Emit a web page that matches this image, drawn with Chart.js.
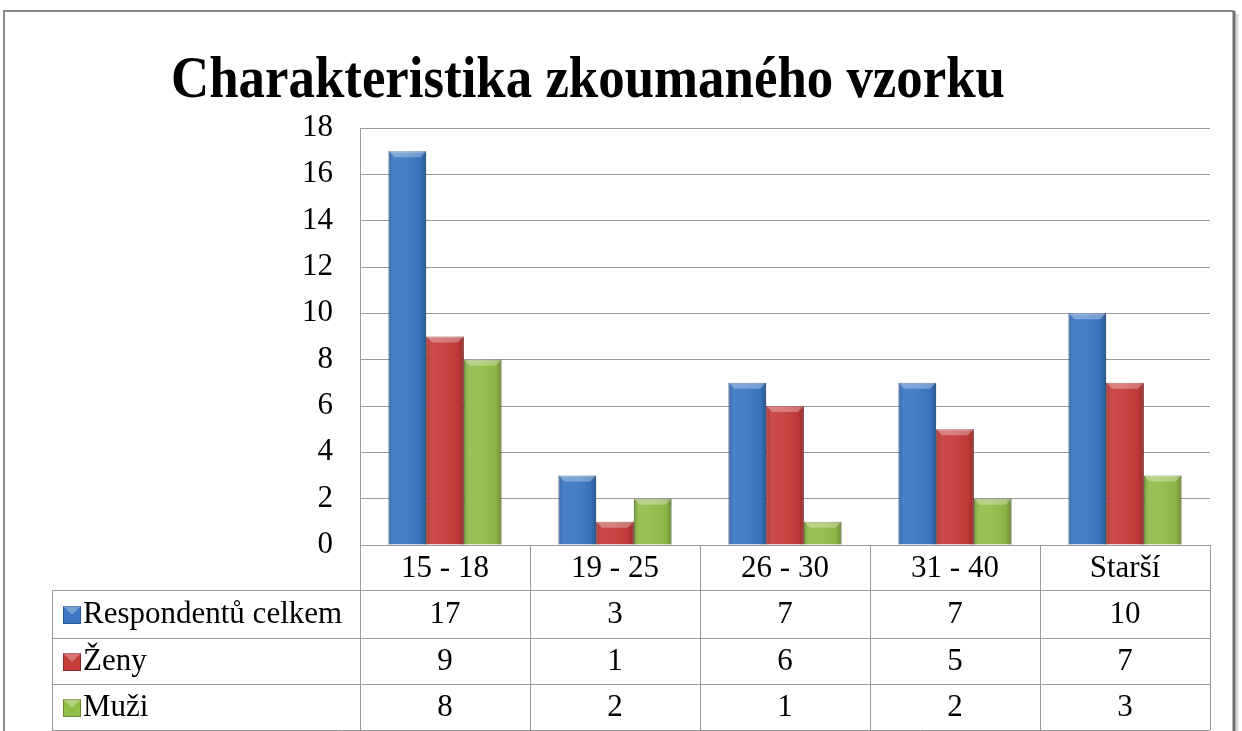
<!DOCTYPE html>
<html>
<head>
<meta charset="utf-8">
<script src="https://cdn.jsdelivr.net/npm/chart.js@4.4.1/dist/chart.umd.min.js"></script>
<style>
  body { margin: 0; background: #fff; }
  #wrap { width: 1242px; height: 731px; }
</style>
</head>
<body>
<div id="wrap"><canvas id="chart"></canvas></div>
<script>
const chartTitle = 'Charakteristika zkoumaného vzorku';
const categories = ['15 - 18', '19 - 25', '26 - 30', '31 - 40', 'Starší'];
const respondentu = [17, 3, 7, 7, 10];
const zeny = [9, 1, 6, 5, 7];
const muzi = [8, 2, 1, 2, 3];
const seriesNames = ['Respondentů celkem', 'Ženy', 'Muži'];
const yMax = 18;
const yStep = 2;

const SERIF = '"Liberation Serif", "Times New Roman", serif';
const fills = ['#3a77c4', '#c63c39', '#92bc48'];
const edges = ['#285a97', '#932a28', '#6a8a32'];

// white background + outer frame
const framePlugin = {
    id: 'frame',
    beforeDraw(chart) {
        const ctx = chart.ctx;
        ctx.save();
        ctx.fillStyle = '#fff';
        ctx.fillRect(0, 0, chart.width, chart.height);
        ctx.strokeStyle = '#8a8a8a';
        ctx.lineWidth = 2;
        ctx.beginPath();
        ctx.moveTo(4, 740);
        ctx.lineTo(4, 11);
        ctx.lineTo(1234, 11);
        ctx.stroke();
        ctx.strokeStyle = '#6e6e6e';
        ctx.lineWidth = 3;
        ctx.beginPath();
        ctx.moveTo(1234, 11);
        ctx.lineTo(1234, 740);
        ctx.stroke();
        ctx.strokeStyle = 'rgba(0,0,0,0.15)';
        ctx.lineWidth = 3;
        ctx.beginPath();
        ctx.moveTo(1237, 14);
        ctx.lineTo(1237, 740);
        ctx.stroke();
        ctx.restore();
    }
};

// bevel look on the bars
const bevelPlugin = {
    id: 'bevel',
    afterDatasetsDraw(chart) {
        const ctx = chart.ctx;
        ctx.save();
        chart.data.datasets.forEach((ds, di) => {
            chart.getDatasetMeta(di).data.forEach(bar => {
                const l = bar.x - bar.width / 2, r = bar.x + bar.width / 2;
                const t = bar.y, b = bar.base;
                const g = ctx.createLinearGradient(l, 0, r, 0);
                g.addColorStop(0, 'rgba(0,0,0,0.18)');
                g.addColorStop(0.15, 'rgba(255,255,255,0.08)');
                g.addColorStop(0.5, 'rgba(255,255,255,0.05)');
                g.addColorStop(0.85, 'rgba(0,0,0,0.05)');
                g.addColorStop(1, 'rgba(0,0,0,0.25)');
                ctx.fillStyle = g;
                ctx.fillRect(l, t, r - l, b - t);
                // top bevel
                const d = Math.min(6, (b - t) / 2);
                ctx.fillStyle = 'rgba(255,255,255,0.3)';
                ctx.beginPath();
                ctx.moveTo(l, t);
                ctx.lineTo(r, t);
                ctx.lineTo(r - d, t + d);
                ctx.lineTo(l + d, t + d);
                ctx.closePath();
                ctx.fill();
            });
        });
        ctx.restore();
    }
};

// title and data table under the plot
const tablePlugin = {
    id: 'table',
    afterDraw(chart) {
        const ctx = chart.ctx;
        const area = chart.chartArea;
        const x = chart.scales.x;
        const n = categories.length;
        const step = (area.right - area.left) / n;
        const tableLeft = 52;
        const rows = [area.bottom, 590, 638, 684, 730];
        const values = [respondentu, zeny, muzi];

        ctx.save();
        // title, squeezed like the original
        ctx.font = 'bold 59px ' + SERIF;
        ctx.fillStyle = '#000';
        ctx.textBaseline = 'alphabetic';
        ctx.textAlign = 'left';
        const w = ctx.measureText(chartTitle).width;
        ctx.translate(171, 97);
        ctx.scale(834 / w, 1);
        ctx.fillText(chartTitle, 0, 0);
        ctx.restore();

        ctx.save();
        ctx.strokeStyle = '#9a9a9a';
        ctx.lineWidth = 1;
        ctx.beginPath();
        for (let i = 0; i < rows.length; i++) {
            const y = Math.round(rows[i]) + 0.5;
            ctx.moveTo(i === 0 ? area.left : tableLeft, y);
            ctx.lineTo(area.right, y);
        }
        for (let i = 0; i <= n; i++) {
            const xx = Math.round(area.left + i * step) + 0.5;
            ctx.moveTo(xx, rows[0]);
            ctx.lineTo(xx, rows[4]);
        }
        ctx.moveTo(tableLeft + 0.5, rows[1]);
        ctx.lineTo(tableLeft + 0.5, rows[4]);
        ctx.stroke();

        ctx.fillStyle = '#000';
        ctx.font = '31px ' + SERIF;
        ctx.textBaseline = 'middle';
        ctx.textAlign = 'center';
        categories.forEach((c, i) => {
            ctx.fillText(c, x.getPixelForValue(i), (rows[0] + rows[1]) / 2 + 1);
        });
        values.forEach((arr, r) => {
            const cy = (rows[r + 1] + rows[r + 2]) / 2 + 1;
            arr.forEach((v, i) => {
                ctx.fillText(String(v), x.getPixelForValue(i), cy);
            });
            // legend key
            const kx = 63, ky = cy - 9, ks = 18;
            ctx.fillStyle = fills[r];
            ctx.fillRect(kx, ky, ks, ks);
            ctx.strokeStyle = edges[r];
            ctx.strokeRect(kx + 0.5, ky + 0.5, ks - 1, ks - 1);
            ctx.fillStyle = 'rgba(255,255,255,0.3)';
            ctx.beginPath();
            ctx.moveTo(kx, ky);
            ctx.lineTo(kx + ks, ky);
            ctx.lineTo(kx + ks / 2, ky + ks / 2);
            ctx.closePath();
            ctx.fill();
            ctx.fillStyle = '#000';
            ctx.textAlign = 'left';
            ctx.fillText(seriesNames[r], 83, cy);
            ctx.textAlign = 'center';
        });
        ctx.restore();
    }
};

const datasets = [respondentu, zeny, muzi].map((d, i) => ({
    label: seriesNames[i],
    data: d,
    backgroundColor: fills[i],
    borderColor: edges[i],
    borderWidth: 1,
    categoryPercentage: 0.665,
    barPercentage: 1
}));

new Chart(document.getElementById('chart'), {
    type: 'bar',
    data: { labels: categories, datasets: datasets },
    options: {
        responsive: true,
        maintainAspectRatio: false,
        animation: false,
        layout: { padding: { left: 280, right: 32, top: 128, bottom: 186 } },
        plugins: {
            legend: { display: false },
            title: { display: false },
            tooltip: { enabled: false }
        },
        scales: {
            x: { display: false },
            y: {
                min: 0,
                max: yMax,
                afterFit(scale) { scale.width = 80; },
                ticks: {
                    stepSize: yStep,
                    padding: 27,
                    color: '#000',
                    font: { family: SERIF, size: 31 }
                },
                grid: { color: '#9a9a9a', drawTicks: false },
                border: { display: true, color: '#9a9a9a' }
            }
        }
    },
    plugins: [framePlugin, bevelPlugin, tablePlugin]
});
</script>
</body>
</html>
